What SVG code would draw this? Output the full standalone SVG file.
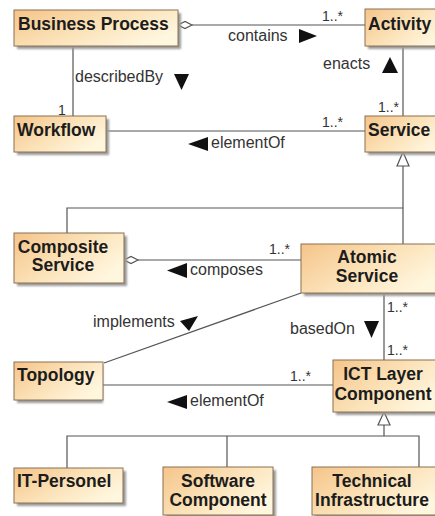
<svg xmlns="http://www.w3.org/2000/svg" width="435" height="516" viewBox="0 0 435 516">
<defs>
<linearGradient id="g" x1="0" y1="0" x2="1" y2="0.6">
<stop offset="0" stop-color="#F5C48A"/>
<stop offset="0.55" stop-color="#FBE2B8"/>
<stop offset="1" stop-color="#FFF6DE"/>
</linearGradient>
<filter id="sh" x="-10%" y="-10%" width="130%" height="140%">
<feGaussianBlur stdDeviation="1"/>
</filter>
</defs>
<style>
.box{fill:url(#g);stroke:#8C7050;stroke-width:1}
.shadow{fill:#9a9a9a;filter:url(#sh)}
.name{font-family:"Liberation Sans",Arial,sans-serif;font-weight:bold;font-size:17.5px;fill:#1c1c1c}
.c{text-anchor:middle}
.lbl{font-family:"Liberation Sans",Arial,sans-serif;font-size:16px;fill:#333}
.mul{font-family:"Liberation Sans",Arial,sans-serif;font-size:14px;fill:#333}
.ln{stroke:#555;stroke-width:1.2;fill:none}
.dia{fill:#fff;stroke:#555;stroke-width:1.2}
.tri{fill:#111}
.gen{fill:#fff;stroke:#555;stroke-width:1.2}
</style>
<rect width="435" height="516" fill="#fff"/>

<g id="connectors">
<!-- Business Process - Activity -->
<line class="ln" x1="192" y1="25" x2="365" y2="25"/>
<polygon class="dia" points="178,25 185,21.5 192,25 185,28.5"/>
<text class="lbl" x="228" y="41">contains</text>
<polygon class="tri" points="299,29 317,36 299,43"/>
<text class="mul" x="322" y="21">1..*</text>
<!-- describedBy -->
<line class="ln" x1="73" y1="46" x2="73" y2="116"/>
<text class="lbl" x="75" y="82">describedBy</text>
<polygon class="tri" points="174,74 189,74 181.5,90"/>
<text class="mul" x="58" y="115">1</text>
<!-- Workflow - Service -->
<line class="ln" x1="106" y1="131" x2="365" y2="131"/>
<polygon class="tri" points="208,137 208,151 188,144"/>
<text class="lbl" x="211" y="148">elementOf</text>
<text class="mul" x="322" y="127">1..*</text>
<!-- enacts -->
<line class="ln" x1="403" y1="46" x2="403" y2="116"/>
<text class="lbl" x="323" y="69">enacts</text>
<polygon class="tri" points="382,73 398,73 390,57"/>
<text class="mul" x="378" y="112">1..*</text>
<!-- Service generalization -->
<line class="ln" x1="403" y1="166" x2="403" y2="244"/>
<polyline class="ln" points="67,233 67,208 403,208"/>
<polygon class="gen" points="403,152 397,166 409,166"/>
<!-- composes -->
<line class="ln" x1="138" y1="260" x2="301" y2="260"/>
<polygon class="dia" points="124,260 131,256.5 138,260 131,263.5"/>
<polygon class="tri" points="187,263 187,278 167,270.5"/>
<text class="lbl" x="190" y="275">composes</text>
<text class="mul" x="269" y="254">1..*</text>
<!-- implements -->
<line class="ln" x1="301" y1="293" x2="104" y2="363"/>
<text class="lbl" x="93" y="327">implements</text>
<polygon class="tri" points="180,321 198,316 189,331"/>
<!-- basedOn -->
<line class="ln" x1="384" y1="293" x2="384" y2="360"/>
<text class="lbl" x="290" y="334">basedOn</text>
<polygon class="tri" points="364,321 379,321 371.5,338"/>
<text class="mul" x="387" y="312">1..*</text>
<text class="mul" x="387" y="355">1..*</text>
<!-- Topology - ICT -->
<line class="ln" x1="103" y1="385" x2="333" y2="385"/>
<polygon class="tri" points="187,395 187,409 167,402"/>
<text class="lbl" x="190" y="406">elementOf</text>
<text class="mul" x="290" y="381">1..*</text>
<!-- ICT generalization -->
<line class="ln" x1="384" y1="425" x2="384" y2="436"/>
<polyline class="ln" points="67,468 67,436 419,436 419,467"/>
<line class="ln" x1="227" y1="436" x2="227" y2="467"/>
<polygon class="gen" points="384,412 378,425 390,425"/>
</g>

<g id="business-process">
<rect class="shadow" x="17" y="13" width="164" height="36"/>
<rect class="box" x="14" y="10" width="164" height="36"/>
<text class="name" x="18" y="30">Business Process</text>
</g>
<g id="activity">
<rect class="shadow" x="368" y="12" width="80" height="37"/>
<rect class="box" x="365" y="9" width="80" height="37"/>
<text class="name" x="368" y="30">Activity</text>
</g>
<g id="workflow">
<rect class="shadow" x="17" y="119" width="92" height="36"/>
<rect class="box" x="14" y="116" width="92" height="36"/>
<text class="name" x="17" y="136">Workflow</text>
</g>
<g id="service">
<rect class="shadow" x="368" y="119" width="80" height="36"/>
<rect class="box" x="365" y="116" width="80" height="36"/>
<text class="name" x="368" y="136">Service</text>
</g>
<g id="composite-service">
<rect class="shadow" x="17" y="236" width="110" height="50"/>
<rect class="box" x="14" y="233" width="110" height="50"/>
<text class="name c" x="63" y="253">Composite</text>
<text class="name c" x="63" y="271">Service</text>
</g>
<g id="atomic-service">
<rect class="shadow" x="304" y="247" width="140" height="49"/>
<rect class="box" x="301" y="244" width="140" height="49"/>
<text class="name c" x="367" y="263">Atomic</text>
<text class="name c" x="367" y="282">Service</text>
</g>
<g id="topology">
<rect class="shadow" x="17" y="365" width="86" height="38"/>
<rect class="box" x="14" y="362" width="89" height="38"/>
<text class="name" x="17" y="381">Topology</text>
</g>
<g id="ict-layer-component">
<rect class="shadow" x="336" y="363" width="110" height="52"/>
<rect class="box" x="333" y="360" width="110" height="52"/>
<text class="name c" x="383" y="380">ICT Layer</text>
<text class="name c" x="383" y="400">Component</text>
</g>
<g id="it-personel">
<rect class="shadow" x="17" y="471" width="109" height="35"/>
<rect class="box" x="14" y="468" width="109" height="35"/>
<text class="name" x="17" y="487">IT-Personel</text>
</g>
<g id="software-component">
<rect class="shadow" x="166" y="470" width="110" height="48"/>
<rect class="box" x="163" y="467" width="110" height="48"/>
<text class="name c" x="218" y="487">Software</text>
<text class="name c" x="218" y="506">Component</text>
</g>
<g id="technical-infrastructure">
<rect class="shadow" x="315" y="470" width="130" height="48"/>
<rect class="box" x="312" y="467" width="130" height="48"/>
<text class="name c" x="372" y="487">Technical</text>
<text class="name c" x="372" y="506">Infrastructure</text>
</g>
</svg>
